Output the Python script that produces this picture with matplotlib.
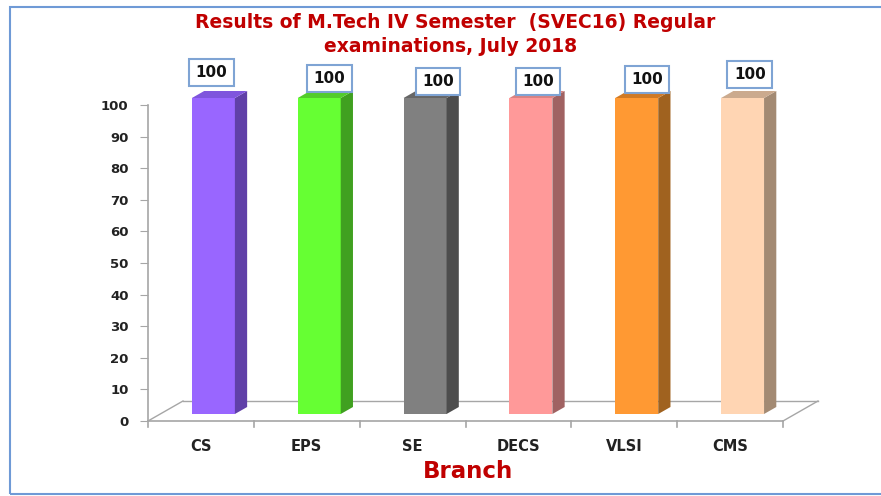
import matplotlib.pyplot as plt
from matplotlib.patches import Polygon, Rectangle

branches = ["CS", "EPS", "SE", "DECS", "VLSI", "CMS"]
pass_pct = [100, 100, 100, 100, 100, 100]
y_ticks = list(range(0, 101, 10))

front_colors = ["#9966FF", "#66FF33", "#808080", "#FF9999", "#FF9933", "#FFD5B3"]
side_colors = ["#6040A8", "#40A020", "#4D4D4D", "#A06262", "#A0621F", "#A38A73"]
top_colors = ["#7F55DD", "#52CC2A", "#666666", "#D98282", "#D07A25", "#CBAA8E"]

# label box nudges in pixels (perspective quirks of the source chart)
label_nudge = [(-8, 22), (4, 16), (7, 13), (1, 13), (4, 15), (1, 20)]

W, H = 881, 496
fig = plt.figure(figsize=(W / 100, H / 100), dpi=100)

# outer frame
fig.patches.append(Rectangle((10 / W, 2 / H), 1.0, (487) / H, transform=fig.transFigure,
                             fill=False, edgecolor="#6F9AD6", linewidth=1.5))

ax = fig.add_axes([148 / W, (H - 421) / H, 635 / W, 316 / H])
ax.set_xlim(-0.5, len(branches) - 0.5)
ax.set_ylim(0, 100)
for s in ax.spines.values():
    s.set_visible(False)

grid_col = "#A6A6A6"
# depth vector in data units
ddx, ddy = 35 / 105.83, 20 / 3.16
x0, x1 = -0.5, len(branches) - 0.5
ax.plot([x0, x0], [0, 100], color=grid_col, lw=1.2, clip_on=False)
ax.plot([x0, x1], [0, 0], color=grid_col, lw=1.2, clip_on=False)
ax.plot([x0 + ddx, x1 + ddx], [ddy, ddy], color=grid_col, lw=1.0, clip_on=False)
ax.plot([x0, x0 + ddx], [0, ddy], color=grid_col, lw=1.0, clip_on=False)
ax.plot([x1, x1 + ddx], [0, ddy], color=grid_col, lw=1.0, clip_on=False)

ax.set_yticks(y_ticks)
ax.set_yticklabels([str(t) for t in y_ticks], fontsize=9.5, fontweight="bold", color="#222222")
ax.set_xticks(range(len(branches)))
ax.set_xticklabels(branches, fontsize=10.5, fontweight="bold", color="#222222")
ax.tick_params(axis="y", length=6, color=grid_col, pad=8)
ax.tick_params(axis="x", length=0, pad=13)
for b in range(len(branches) + 1):
    ax.plot([b - 0.5, b - 0.5], [0, -2], color=grid_col, lw=1.2, clip_on=False)

bw = 0.406
f0, f1 = 0.35, 0.70
for i, (v, fc, sc, tc) in enumerate(zip(pass_pct, front_colors, side_colors, top_colors)):
    xl = i + 0.118 - bw / 2
    xr = xl + bw
    yb = f0 * ddy
    yt = yb + v
    ox, oy = (f1 - f0) * ddx, (f1 - f0) * ddy
    ax.add_patch(Polygon([(xl, yb), (xr, yb), (xr, yt), (xl, yt)], closed=True,
                         facecolor=fc, edgecolor="none", clip_on=False, zorder=3))
    ax.add_patch(Polygon([(xr, yb), (xr + ox, yb + oy), (xr + ox, yt + oy), (xr, yt)], closed=True,
                         facecolor=sc, edgecolor="none", clip_on=False, zorder=3))
    ax.add_patch(Polygon([(xl, yt), (xr, yt), (xr + ox, yt + oy), (xl + ox, yt + oy)], closed=True,
                         facecolor=tc, edgecolor="none", clip_on=False, zorder=3))
    nx, ny = label_nudge[i]
    ax.annotate(str(v), ((xl + xr + ox) / 2, yt + oy / 2), xytext=(nx, ny),
                textcoords="offset pixels", ha="center", va="center",
                annotation_clip=False,
                fontsize=11, fontweight="bold", color="#111111", zorder=5,
                bbox=dict(boxstyle="square,pad=0.42", facecolor="white",
                          edgecolor="#7FA4D4", linewidth=1.5))

fig.text(455 / W, 1 - 22 / H, "Results of M.Tech IV Semester  (SVEC16) Regular",
         ha="center", va="center", fontsize=13.5, fontweight="bold", color="#C00000")
fig.text(451 / W, 1 - 47 / H, "examinations, July 2018",
         ha="center", va="center", fontsize=13.5, fontweight="bold", color="#C00000")
fig.text(468 / W, 1 - 472 / H, "Branch", ha="center", va="center",
         fontsize=16.5, fontweight="bold", color="#C00000")

fig.savefig("out.png", dpi=100)
